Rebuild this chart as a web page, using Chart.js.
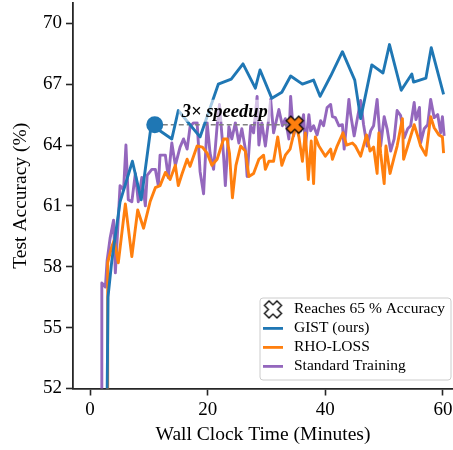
<!DOCTYPE html>
<html>
<head>
<meta charset="utf-8">
<script src="https://cdn.jsdelivr.net/npm/chart.js@4.4.1/dist/chart.umd.min.js"></script>
<style>
  html, body { margin: 0; padding: 0; background: #fff; }
  #chart { display: block; }
</style>
</head>
<body>
<canvas id="chart" width="453" height="450"></canvas>
<script>
// wall clock minutes / test accuracy (%) per method
const gistTime = [2.7, 3.05, 3.7, 5.1, 7.2, 8.7, 10.4, 13.9, 15.0, 18.7,
  21.8, 24.0, 26.0, 28.1, 28.9, 30.9, 32.6, 34.1, 36.1, 38.0,
  39.1, 40.9, 42.9, 45.0, 46.0, 47.9, 49.8, 50.9, 52.9, 54.7,
  55.0, 57.1, 58.0, 60.1];
const gistAcc = [45, 56.5, 58.3, 61.2, 63.2, 61.3, 65.0, 64.3, 65.7, 64.4,
  67.0, 67.25, 68.0, 66.8, 67.7, 66.3, 66.6, 67.4, 67.0, 67.2,
  66.4, 67.4, 68.6, 67.2, 65.3, 67.95, 67.55, 68.95, 66.7, 67.5,
  67.1, 67.3, 68.8, 66.5];

const rhoTime = [2.9, 3.0, 3.7, 4.1, 4.8, 6.0, 7.1, 8.1, 9.1, 10.2,
  11.1, 11.9, 12.8, 13.6, 14.5, 15.0, 15.6, 16.5, 17.0, 18.2,
  19.1, 19.9, 20.7, 21.6, 22.7, 23.3, 23.7, 24.2, 24.8, 25.6,
  26.4, 27.0, 27.8, 28.7, 29.5, 29.8, 30.4, 31.2, 31.9, 32.6,
  33.2, 34.0, 35.0, 35.5, 36.1, 36.6, 37.1, 37.6, 38.0, 38.3,
  38.9, 40.0, 40.9, 41.2, 42.0, 43.0, 43.6, 44.6, 45.1, 46.0,
  47.0, 47.6, 48.2, 48.8, 49.1, 49.4, 50.0, 50.3, 51.0, 51.7,
  52.2, 53.1, 53.3, 54.0, 55.1, 55.8, 56.2, 57.1, 57.9, 58.5,
  59.3, 59.9, 60.1];
const rhoAcc = [45, 58.2, 59.0, 59.3, 58.2, 61.1, 58.5, 60.8, 59.9, 61.2,
  61.9, 62.0, 62.65, 62.3, 63.0, 62.0, 62.55, 63.3, 62.95, 63.95,
  63.9, 63.6, 63.0, 63.3, 64.3, 64.3, 63.6, 61.4, 63.0, 63.95,
  63.7, 62.45, 62.6, 63.3, 63.5, 62.8, 63.2, 63.2, 64.4, 63.0,
  63.5, 63.8, 65.0, 64.4, 63.2, 64.6, 62.3, 64.2, 62.1, 64.4,
  63.95, 63.45, 63.8, 63.3, 63.95, 64.6, 64.0, 64.1, 63.95, 63.45,
  64.5, 63.7, 63.9, 62.6, 64.6, 63.6, 62.1, 63.95, 62.6, 63.4,
  63.95, 65.3, 63.3, 63.95, 65.0, 64.35, 63.95, 63.5, 65.4, 64.85,
  64.5, 64.4, 63.6];

const stdTime = [1.95, 2.0, 2.6, 2.9, 3.4, 4.0, 4.3, 5.1, 5.7, 6.1,
  6.5, 7.1, 7.7, 8.2, 8.8, 9.4, 9.7, 10.5, 11.1, 11.6,
  11.9, 12.8, 13.3, 13.9, 14.5, 15.3, 15.9, 16.5, 17.0, 17.6,
  18.2, 18.7, 19.3, 19.9, 20.4, 21.0, 21.6, 22.0, 22.7, 23.0,
  23.6, 24.1, 24.7, 25.3, 25.8, 26.4, 26.7, 27.3, 27.8, 28.4,
  28.7, 29.2, 29.8, 30.4, 30.7, 31.2, 32.1, 32.7, 33.2, 33.8,
  34.1, 34.6, 35.2, 35.8, 36.3, 36.6, 37.2, 37.5, 38.0, 38.6,
  39.2, 39.7, 40.3, 40.9, 41.2, 41.7, 42.3, 42.9, 43.2, 44.0,
  44.3, 44.9, 45.4, 46.0, 46.5, 47.1, 47.7, 48.2, 48.8, 49.4,
  50.0, 50.5, 51.1, 51.7, 52.2, 52.8, 53.4, 54.0, 54.5, 55.1,
  55.4, 56.0, 56.2, 56.8, 57.4, 57.9, 58.5, 59.1, 59.6, 59.9,
  60.2];
const stdAcc = [45, 57.2, 57.0, 58.3, 59.4, 60.3, 57.7, 62.0, 61.8, 64.0,
  61.3, 61.2, 62.6, 61.2, 62.4, 61.0, 62.5, 62.8, 62.8, 62.0,
  63.5, 63.5, 62.4, 64.1, 63.0, 63.9, 64.3, 63.8, 64.9, 65.1,
  65.1, 62.7, 61.6, 65.1, 63.6, 62.8, 64.95, 66.0, 63.45, 62.0,
  64.9, 64.3, 65.1, 64.1, 64.8, 63.8, 62.45, 64.95, 64.6, 66.4,
  64.0, 65.1, 63.95, 65.35, 66.25, 64.6, 65.75, 64.95, 65.3, 64.3,
  66.4, 64.45, 65.2, 64.7, 65.5, 63.95, 65.5, 64.7, 64.95, 64.5,
  65.2, 64.95, 65.85, 66.0, 65.4, 65.35, 64.95, 65.0, 63.8, 66.25,
  65.5, 64.45, 65.25, 66.2, 65.0, 63.95, 64.7, 64.95, 66.25, 63.95,
  65.4, 64.8, 63.7, 64.3, 65.7, 65.45, 64.35, 64.8, 64.95, 66.1,
  65.25, 65.85, 64.1, 64.8, 65.0, 66.25, 65.35, 65.5, 64.6, 65.4,
  64.45];

// where GIST and RHO-LOSS first reach 65 %
const reachTime = [11.0, 34.8];
const reachAcc = [65, 65];

const seriesNames = ['GIST (ours)', 'RHO-LOSS', 'Standard Training'];
const reachLabel = 'Reaches 65 % Accuracy';
const speedupText = '3\u00d7 speedup';
const xTicks = [0, 20, 40, 60];
const yTicks = [52, 55, 58, 61, 64, 67, 70];

const blue = '#1f77b4';
const orange = '#ff7f0e';
const purple = '#9467bd';
const axisColor = '#262626';
const serif = "'Liberation Serif', 'Times New Roman', serif";

function pairs(xs, ys) {
  return xs.map((x, i) => ({ x, y: ys[i] }));
}

function crossPath(g, cx, cy, size) {
  const a = size * 0.52, b = size * 0.19;
  const pts = [[-b, -a], [b, -a], [b, -b], [a, -b], [a, b], [b, b],
    [b, a], [-b, a], [-b, b], [-a, b], [-a, -b], [-b, -b]];
  const c = Math.cos(Math.PI / 4), s = Math.sin(Math.PI / 4);
  g.beginPath();
  pts.forEach(([px, py], i) => {
    const rx = cx + px * c - py * s, ry = cy + px * s + py * c;
    if (i === 0) g.moveTo(rx, ry); else g.lineTo(rx, ry);
  });
  g.closePath();
}

function makeCross(fill, size) {
  const c = document.createElement('canvas');
  const s = Math.ceil(size) + 4;
  c.width = s; c.height = s;
  const g = c.getContext('2d');
  crossPath(g, s / 2, s / 2, size);
  g.fillStyle = fill;
  g.fill();
  g.lineWidth = 1.3;
  g.strokeStyle = '#000';
  g.stroke();
  return c;
}

const orangeCross = makeCross(orange, 17);
const whiteCross = makeCross('#fff', 17);

const speedupPlugin = {
  id: 'speedupLabel',
  afterDatasetsDraw(chart) {
    const { ctx, scales } = chart;
    const cx = scales.x.getPixelForValue((reachTime[0] + reachTime[1]) / 2);
    const cy = scales.y.getPixelForValue(reachAcc[0]) - 13;
    ctx.save();
    ctx.font = "italic bold 18.5px " + serif;
    const w = ctx.measureText(speedupText).width;
    ctx.fillStyle = 'rgba(255,255,255,0.6)';
    ctx.fillRect(cx - w / 2 - 3, cy - 12, w + 6, 22);
    ctx.fillStyle = '#000';
    ctx.textAlign = 'center';
    ctx.textBaseline = 'middle';
    ctx.fillText(speedupText, cx, cy);
    ctx.restore();
  }
};

const legendPlugin = {
  id: 'cornerLegend',
  afterDraw(chart) {
    const { ctx, chartArea } = chart;
    const w = 191, h = 82;
    const right = chartArea.right - 2, bottom = chartArea.bottom - 8.5;
    const left = right - w, top = bottom - h;
    ctx.save();
    ctx.beginPath();
    const r = 3;
    ctx.moveTo(left + r, top);
    ctx.arcTo(right, top, right, bottom, r);
    ctx.arcTo(right, bottom, left, bottom, r);
    ctx.arcTo(left, bottom, left, top, r);
    ctx.arcTo(left, top, right, top, r);
    ctx.closePath();
    ctx.fillStyle = 'rgba(255,255,255,0.8)';
    ctx.fill();
    ctx.strokeStyle = '#cccccc';
    ctx.lineWidth = 1;
    ctx.stroke();

    const rows = [{ label: reachLabel, color: null }].concat(
      seriesNames.map((n, i) => ({ label: n, color: [blue, orange, purple][i] })));
    ctx.font = "15.5px " + serif;
    ctx.textBaseline = 'middle';
    ctx.fillStyle = '#000';
    rows.forEach((row, i) => {
      const y = top + 11.4 + i * 19;
      if (row.color) {
        ctx.strokeStyle = row.color;
        ctx.lineWidth = 2.8;
        ctx.beginPath();
        ctx.moveTo(left + 3, y);
        ctx.lineTo(left + 23, y);
        ctx.stroke();
      } else {
        ctx.drawImage(whiteCross, left + 13 - whiteCross.width / 2, y - whiteCross.height / 2);
      }
      ctx.fillStyle = '#000';
      ctx.fillText(row.label, left + 34, y);
    });
    ctx.restore();
  }
};

const lineStyle = { borderWidth: 2.9, pointRadius: 0, fill: false, borderJoinStyle: 'round', tension: 0 };

new Chart(document.getElementById('chart'), {
  type: 'line',
  data: {
    datasets: [
      {
        label: reachLabel,
        data: pairs(reachTime, reachAcc),
        showLine: false,
        pointStyle: ['circle', orangeCross],
        pointRadius: [8.5, 8.5],
        pointBackgroundColor: [blue, orange],
        pointBorderColor: [blue, '#000'],
        pointBorderWidth: [0, 0]
      },
      { label: seriesNames[0], data: pairs(gistTime, gistAcc), borderColor: blue, ...lineStyle },
      { label: seriesNames[1], data: pairs(rhoTime, rhoAcc), borderColor: orange, ...lineStyle },
      {
        label: 'connector',
        data: pairs(reachTime, reachAcc),
        borderColor: '#808080',
        borderWidth: 1.6,
        borderDash: [5, 3],
        pointRadius: 0
      },
      { label: seriesNames[2], data: pairs(stdTime, stdAcc), borderColor: purple, ...lineStyle }
    ]
  },
  options: {
    responsive: false,
    animation: false,
    devicePixelRatio: 1,
    layout: { autoPadding: false, padding: { top: 3, right: 0, bottom: 0, left: 0 } },
    plugins: { legend: { display: false }, tooltip: { enabled: false } },
    scales: {
      x: {
        type: 'linear',
        min: -2.9,
        max: 61.7,
        afterBuildTicks: s => { s.ticks = xTicks.map(v => ({ value: v })); },
        afterFit: s => { s.height = 61.5; s.paddingLeft = 0; s.paddingRight = 0; },
        grid: { drawOnChartArea: false, drawTicks: true, tickLength: 7, tickColor: axisColor, tickWidth: 1.6 },
        border: { display: true, color: axisColor, width: 1.8 },
        ticks: { color: '#000', font: { family: serif, size: 19 }, padding: 3, maxRotation: 0 },
        title: { display: true, text: 'Wall Clock Time (Minutes)', color: '#000',
          font: { family: serif, size: 19.5 }, padding: { top: 0, bottom: 3 } }
      },
      y: {
        type: 'linear',
        min: 52,
        max: 71,
        afterBuildTicks: s => { s.ticks = yTicks.map(v => ({ value: v })); },
        afterFit: s => { s.width = 73; s.paddingTop = 0; s.paddingBottom = 0; },
        grid: { drawOnChartArea: false, drawTicks: true, tickLength: 7, tickColor: axisColor, tickWidth: 1.6 },
        border: { display: true, color: axisColor, width: 1.8 },
        ticks: { color: '#000', font: { family: serif, size: 19 }, padding: 4 },
        title: { display: true, text: 'Test Accuracy (%)', color: '#000',
          font: { family: serif, size: 19.5 }, padding: { top: 8.7, bottom: 0 } }
      }
    }
  },
  plugins: [speedupPlugin, legendPlugin]
});
</script>
</body>
</html>
